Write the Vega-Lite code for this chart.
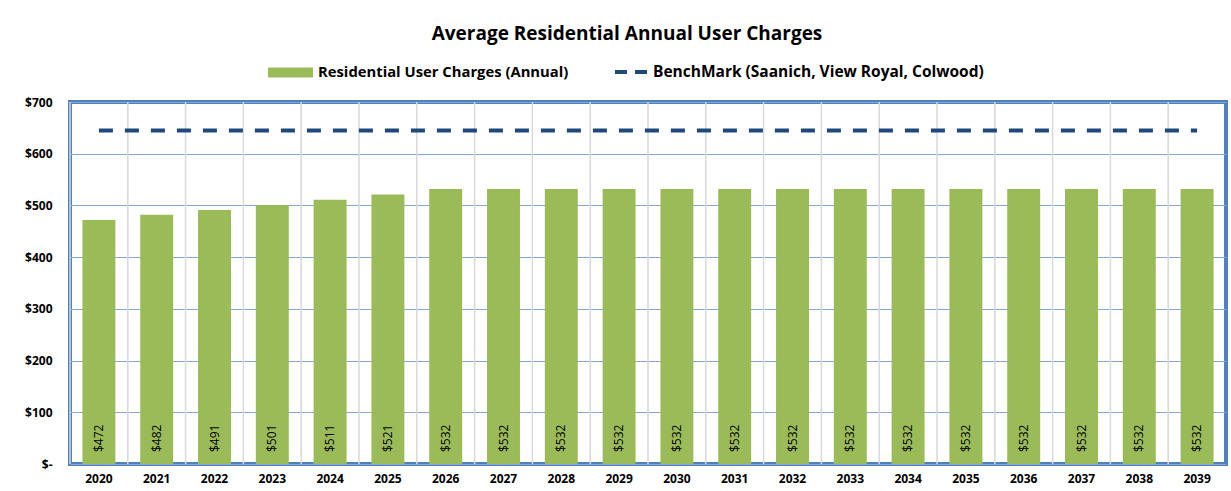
{
  "$schema": "https://vega.github.io/schema/vega-lite/v6.json",
  "width": 1156,
  "height": 362,
  "autosize": {"type": "none"},
  "padding": {"left": 70, "top": 102, "right": 5, "bottom": 27},
  "background": "white",
  "title": {"text": "Average Residential Annual User Charges", "anchor": "middle", "offset": 6, "dx": -21, "fontSize": 19, "font": "Open Sans", "fontWeight": "bold", "color": "#000000"},
  "config": {
    "view": {"stroke": "#4f81bd", "strokeWidth": 4},
    "font": "Open Sans"
  },
  "data": {"values": [
    {"year": "2020", "charge": 472, "label": "$472", "benchmark": 645},
    {"year": "2021", "charge": 482, "label": "$482", "benchmark": 645},
    {"year": "2022", "charge": 491, "label": "$491", "benchmark": 645},
    {"year": "2023", "charge": 501, "label": "$501", "benchmark": 645},
    {"year": "2024", "charge": 511, "label": "$511", "benchmark": 645},
    {"year": "2025", "charge": 521, "label": "$521", "benchmark": 645},
    {"year": "2026", "charge": 532, "label": "$532", "benchmark": 645},
    {"year": "2027", "charge": 532, "label": "$532", "benchmark": 645},
    {"year": "2028", "charge": 532, "label": "$532", "benchmark": 645},
    {"year": "2029", "charge": 532, "label": "$532", "benchmark": 645},
    {"year": "2030", "charge": 532, "label": "$532", "benchmark": 645},
    {"year": "2031", "charge": 532, "label": "$532", "benchmark": 645},
    {"year": "2032", "charge": 532, "label": "$532", "benchmark": 645},
    {"year": "2033", "charge": 532, "label": "$532", "benchmark": 645},
    {"year": "2034", "charge": 532, "label": "$532", "benchmark": 645},
    {"year": "2035", "charge": 532, "label": "$532", "benchmark": 645},
    {"year": "2036", "charge": 532, "label": "$532", "benchmark": 645},
    {"year": "2037", "charge": 532, "label": "$532", "benchmark": 645},
    {"year": "2038", "charge": 532, "label": "$532", "benchmark": 645},
    {"year": "2039", "charge": 532, "label": "$532", "benchmark": 645}
  ]},
  "layer": [
    {
      "mark": {"type": "rule", "color": "#d9d9d9", "strokeWidth": 1.5},
      "encoding": {
        "x": {"field": "year", "type": "ordinal", "bandPosition": 0, "scale": {"paddingInner": 0, "paddingOuter": 0}, "axis": null}
      }
    },
    {
      "layer": [
        {
          "mark": {"type": "bar"},
          "encoding": {
            "x": {"field": "year", "type": "ordinal", "scale": {"paddingInner": 0.43, "paddingOuter": 0.215},
              "axis": {"title": null, "labelAngle": 0, "ticks": false, "domain": false, "grid": false, "labelPadding": 9, "labelFont": "Open Sans", "labelFontSize": 12, "labelFontWeight": "bold", "labelColor": "#000000"}},
            "y": {"field": "charge", "type": "quantitative", "scale": {"domain": [0, 700]},
              "axis": {"title": null, "values": [0, 100, 200, 300, 400, 500, 600, 700], "labelExpr": "datum.value == 0 ? '$-' : '$' + datum.value", "ticks": false, "domain": false, "grid": true, "gridColor": "#86a8d8", "gridWidth": 1.2, "labelPadding": 18, "labelFont": "Open Sans", "labelFontSize": 12, "labelFontWeight": "bold", "labelColor": "#000000"}},
            "fill": {"datum": "Residential User Charges (Annual)", "scale": {"range": ["#9bbb59"]},
              "legend": {"orient": "none", "legendX": 198, "legendY": -52, "title": null, "symbolType": "M-1,-0.22H1V0.22H-1Z", "symbolSize": 2025, "symbolStrokeWidth": 0, "symbolOpacity": 1, "labelFont": "Open Sans", "labelFontSize": 14.8, "labelFontWeight": "bold", "labelColor": "#000000", "labelOffset": 5, "labelLimit": 400}}
          }
        },
        {
          "mark": {"type": "text", "angle": 270, "align": "left", "baseline": "middle", "dx": 12, "fontSize": 12, "font": "Open Sans", "color": "#000000"},
          "encoding": {
            "x": {"field": "year", "type": "ordinal"},
            "y": {"datum": 0, "type": "quantitative"},
            "text": {"field": "label"}
          }
        },
        {
          "mark": {"type": "line", "strokeDash": [14, 12], "strokeWidth": 4},
          "encoding": {
            "x": {"field": "year", "type": "ordinal"},
            "y": {"field": "benchmark", "type": "quantitative"},
            "stroke": {"datum": "BenchMark (Saanich, View Royal, Colwood)", "scale": {"range": ["#1f497d"]},
              "legend": {"orient": "none", "legendX": 543, "legendY": -48, "title": null, "symbolType": "stroke", "symbolSize": 1024, "symbolStrokeWidth": 4, "symbolDash": [12, 8], "labelFont": "Open Sans", "labelFontSize": 15.5, "labelFontWeight": "bold", "labelColor": "#000000", "labelOffset": 4, "labelLimit": 400}}
          }
        }
      ]
    }
  ],
  "resolve": {"scale": {"x": "independent"}}
}
